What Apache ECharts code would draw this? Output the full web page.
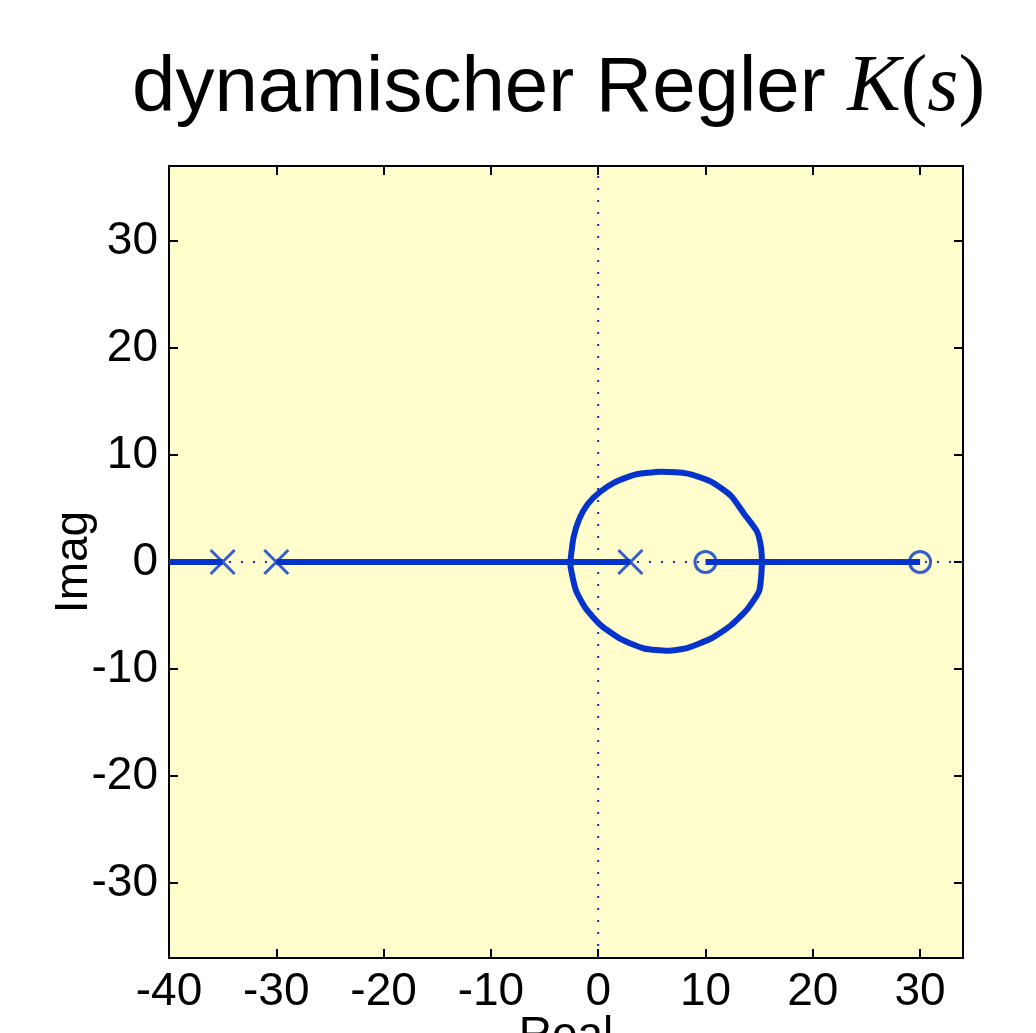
<!DOCTYPE html>
<html>
<head>
<meta charset="utf-8">
<script src="https://cdn.jsdelivr.net/npm/echarts@6/dist/echarts.min.js"></script>
<style>
  html, body { margin: 0; padding: 0; background: #fff; }
  #main { width: 1036px; height: 1033px; }
</style>
</head>
<body>
<div id="main"></div>
<script>
// poles (x) and zeros (o) on the real axis
var poles = [-35, -30, 3];
var zeros = [10, 30];
// real-axis parts of the locus
var realSegs = [[-40, -35], [-30, 3], [10, 30]];
// complex branches
var locusUpper = [
  [-2.6, 0], [-2.3, 2.29], [-1.77, 4.0], [-0.99, 5.4], [0.1, 6.49], [1.49, 7.42],
  [3.36, 8.14], [5.85, 8.44], [8.34, 8.26], [10.51, 7.51], [12.38, 6.18],
  [13.62, 4.47], [14.8, 2.85], [15.18, 1.36], [15.27, 0]
];
var locusLower = [
  [15.27, 0], [15.02, -2.64], [13.94, -4.35], [12.38, -5.91], [10.51, -7.15],
  [8.34, -8.02], [6.47, -8.3], [4.29, -8.08], [2.12, -7.21], [0.25, -5.91],
  [-1.15, -4.35], [-2.08, -2.64], [-2.55, -0.62], [-2.6, 0]
];
var xTicks = [-40, -30, -20, -10, 0, 10, 20, 30];
var yTicks = [-30, -20, -10, 0, 10, 20, 30];
var xRange = [-40, 34];
var yRange = [-37, 37];

var blue = '#0434CC';
var sans = 'Liberation Sans, Arial, Helvetica, sans-serif';
var serif = 'Liberation Serif, Times New Roman, serif';

function makeAxis(pos, range, ticks, withLabels) {
  return {
    type: 'value',
    position: pos,
    min: range[0],
    max: range[1],
    splitLine: { show: false },
    axisLine: { show: true, onZero: false, lineStyle: { color: '#000', width: 2 } },
    axisTick: { show: true, inside: true, length: 9, customValues: ticks, lineStyle: { color: '#000', width: 2 } },
    axisLabel: {
      show: withLabels, customValues: ticks, margin: 11,
      color: '#000', fontSize: 46, fontFamily: sans
    }
  };
}

var series = [];
// dotted axes lines
series.push({
  type: 'line', symbol: 'none', silent: true,
  data: [[xRange[0], 0], [xRange[1], 0]],
  lineStyle: { color: blue, width: 2, type: [2, 10] }
});
series.push({
  type: 'line', symbol: 'none', silent: true,
  data: [[0, yRange[0]], [0, yRange[1]]],
  lineStyle: { color: blue, width: 2, type: [2, 10] }
});
realSegs.forEach(function (s) {
  series.push({
    type: 'line', symbol: 'none',
    data: [[s[0], 0], [s[1], 0]],
    lineStyle: { color: blue, width: 6 }
  });
});
series.push({
  type: 'line', symbol: 'none', smooth: 0.2,
  data: locusUpper,
  lineStyle: { color: blue, width: 6, join: 'round' }
});
series.push({
  type: 'line', symbol: 'none', smooth: 0.2,
  data: locusLower,
  lineStyle: { color: blue, width: 6, join: 'round' }
});
series.push({
  type: 'scatter', z: 5,
  symbol: 'path://M0,0 L10,10 M10,0 L0,10',
  symbolSize: 24,
  data: poles.map(function (p) { return [p, 0]; }),
  itemStyle: { color: 'transparent', borderColor: blue, borderWidth: 3 }
});
series.push({
  type: 'scatter', z: 5,
  symbol: 'circle',
  symbolSize: 21,
  data: zeros.map(function (z) { return [z, 0]; }),
  itemStyle: { color: 'transparent', borderColor: blue, borderWidth: 3 }
});

var xMain = makeAxis('bottom', xRange, xTicks, true);
xMain.name = 'Real';
xMain.nameLocation = 'middle';
xMain.nameGap = 55;
xMain.nameMoveOverlap = false;
xMain.nameTextStyle = { color: '#000', fontSize: 46, fontFamily: sans };
var yMain = makeAxis('left', yRange, yTicks, true);
yMain.name = 'Imag';
yMain.nameLocation = 'middle';
yMain.nameGap = 72;
yMain.nameMoveOverlap = false;
yMain.nameTextStyle = { color: '#000', fontSize: 46, fontFamily: sans };

var chart = echarts.init(document.getElementById('main'));
chart.setOption({
  animation: false,
  backgroundColor: '#fff',
  title: {
    text: '{a|dynamischer Regler }{k|K}{p|(}{k|s}{p|)}',
    left: 127,
    top: 44,
    textStyle: {
      rich: {
        a: { fontFamily: sans, fontWeight: 'normal', fontSize: 78, color: '#000' },
        k: { fontFamily: serif, fontWeight: 'normal', fontStyle: 'italic', fontSize: 80, color: '#000' },
        p: { fontFamily: serif, fontWeight: 'normal', fontSize: 80, color: '#000' }
      }
    }
  },
  grid: {
    left: 169, top: 166, right: 73, bottom: 75,
    containLabel: false, outerBoundsMode: 'none',
    show: true, backgroundColor: '#FFFECC', borderWidth: 0
  },
  xAxis: [xMain, makeAxis('top', xRange, xTicks, false)],
  yAxis: [yMain, makeAxis('right', yRange, yTicks, false)],
  series: series
});
</script>
</body>
</html>
